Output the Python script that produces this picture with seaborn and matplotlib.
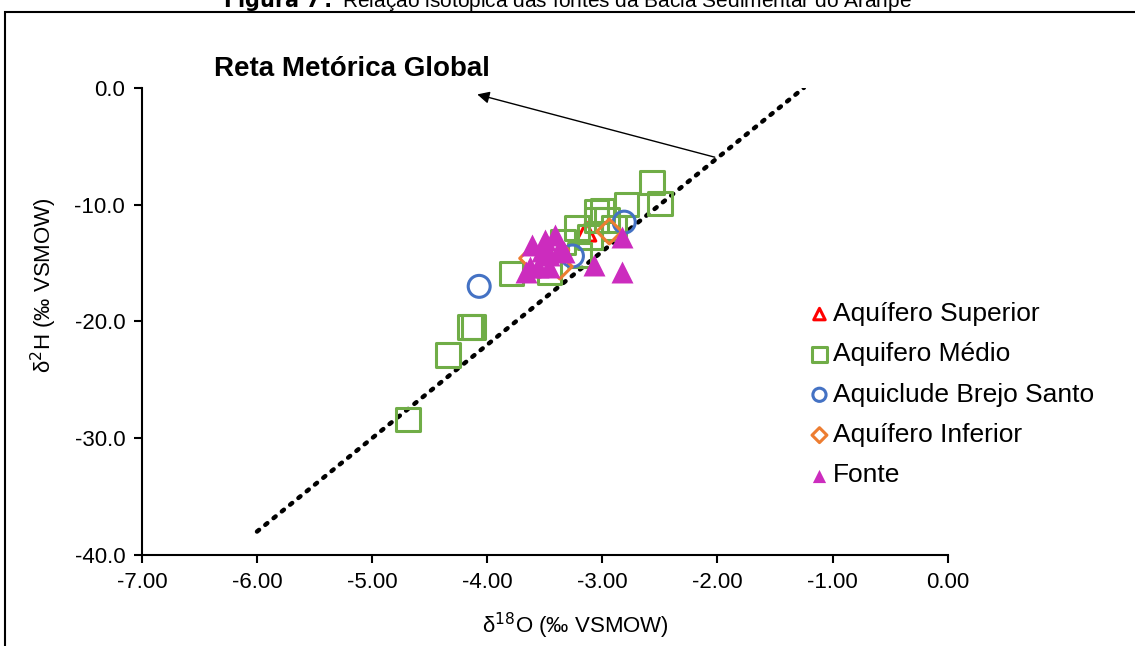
import pandas as pd
import matplotlib.pyplot as plt
import matplotlib.patches as mpatches
import seaborn as sns

# ------------------------------
# Data (d18O, d2H in permil VSMOW)
# ------------------------------
sup_o = [-3.14]
sup_h = [-12.3]

med_o = [-4.69, -4.34, -4.15, -4.12, -3.79, -3.46, -3.34, -3.22, -3.11, -3.05,
         -3.00, -3.05, -2.96, -2.79, -2.57, -2.50, -3.20, -2.90]
med_h = [-28.4, -22.9, -20.5, -20.5, -15.9, -15.8, -13.2, -12.0, -12.8, -11.3,
         -10.5, -10.6, -11.3, -10.0, -8.1, -9.9, -14.3, -12.0]

brejo_o = [-4.07, -3.26, -2.81]
brejo_h = [-17.0, -14.4, -11.5]

inf_o = [-2.94, -3.37, -3.61, -3.40]
inf_h = [-12.3, -15.3, -14.6, -13.9]

fonte_o = [-3.61, -3.50, -3.41, -3.63, -3.66, -3.56, -3.46, -3.33, -3.37,
           -3.46, -3.07, -2.83, -2.83, -3.52]
fonte_h = [-13.5, -13.0, -12.6, -15.3, -15.8, -15.3, -15.3, -14.1, -13.7,
           -14.3, -15.2, -15.8, -12.8, -14.0]

# Global meteoric water line end points
gmwl_o = [-6.0, -1.25]
gmwl_h = [-38.0, 0.0]

x_ticks = [-7, -6, -5, -4, -3, -2, -1, 0]
y_ticks = [0, -10, -20, -30, -40]

sns.set_theme(style="white")
plt.rcParams['font.family'] = ['Liberation Sans', 'DejaVu Sans']
plt.rcParams['text.color'] = 'black'
plt.rcParams['axes.labelcolor'] = 'black'

fig = plt.figure(figsize=(11.35, 6.46), dpi=100)
ax = fig.add_axes([0.125, 0.141, 0.71, 0.723])

# outer frame of the figure panel
fig.patches.append(mpatches.Rectangle((5 / 1135, -0.2), 1.2, 0.2 + 634 / 646,
                                      transform=fig.transFigure, fill=False,
                                      edgecolor='black', linewidth=1.5))
fig.text(0.5, 0.998, r"$\bf{Figura\ 7:}$ Relação isotópica das fontes da Bacia Sedimentar do Araripe",
         ha='center', va='center', fontsize=15)

sns.lineplot(x=gmwl_o, y=gmwl_h, ax=ax, color='black', linestyle=(0, (0.6, 1.8)),
             linewidth=3.2, dash_capstyle='round', zorder=1)

groups = [
    ("Aquífero Superior", sup_o, sup_h, '^', '#FF0000', False, 190),
    ("Aquifero Médio", med_o, med_h, 's', '#70AD47', False, 290),
    ("Aquiclude Brejo Santo", brejo_o, brejo_h, 'o', '#4472C4', False, 250),
    ("Aquífero Inferior", inf_o, inf_h, 'D', '#ED7D31', False, 160),
    ("Fonte", fonte_o, fonte_h, '^', '#CC2CBE', True, 250),
]
for name, xs, ys, mk, col, filled, size in groups:
    df = pd.DataFrame({"o": xs, "h": ys})
    if filled:
        sns.scatterplot(data=df, x="o", y="h", ax=ax, marker=mk, s=size,
                        color=col, edgecolor=col, linewidth=0, label=name, zorder=3)
    else:
        sns.scatterplot(data=df, x="o", y="h", ax=ax, marker=mk, s=size,
                        facecolor='none', edgecolor=col, linewidth=2.2,
                        label=name, zorder=3)

ax.set_xlim(-7, 0)
ax.set_ylim(-40, 0)
ax.set_xticks(x_ticks)
ax.set_yticks(y_ticks)
ax.set_xticklabels([f"{v:.2f}" for v in x_ticks])
ax.set_yticklabels([f"{v:.1f}" for v in y_ticks])
ax.tick_params(axis='both', labelsize=16, length=6, width=1.5, direction='out',
               colors='black', bottom=True, left=True, pad=6)
for side in ['top', 'right']:
    ax.spines[side].set_visible(False)
for side in ['left', 'bottom']:
    ax.spines[side].set_color('black')
    ax.spines[side].set_linewidth(1.5)

ax.set_xlabel(r"δ$^{18}$O (‰ VSMOW)", fontsize=16)
ax.set_ylabel(r"δ$^{2}$H (‰ VSMOW)", fontsize=16)
ax.xaxis.set_label_coords(0.538, -0.12)
ax.yaxis.set_label_coords(-0.103, 0.578)

# annotation for the meteoric line
ax.annotate("", xy=(-4.11, -0.5), xytext=(-2.0, -6.0),
            arrowprops=dict(arrowstyle='-|>', color='black', lw=1, mutation_scale=18),
            annotation_clip=False)
ax.text(-6.37, 1.6, "Reta Metórica Global", fontsize=20, fontweight='bold',
        ha='left', va='center', clip_on=False)

leg = ax.legend(loc='center left', bbox_to_anchor=(0.795, 0.343), frameon=False,
                fontsize=19, handletextpad=0.0, labelspacing=0.62,
                handlelength=1.0, markerscale=0.6)

plt.savefig("out.png", dpi=100)
